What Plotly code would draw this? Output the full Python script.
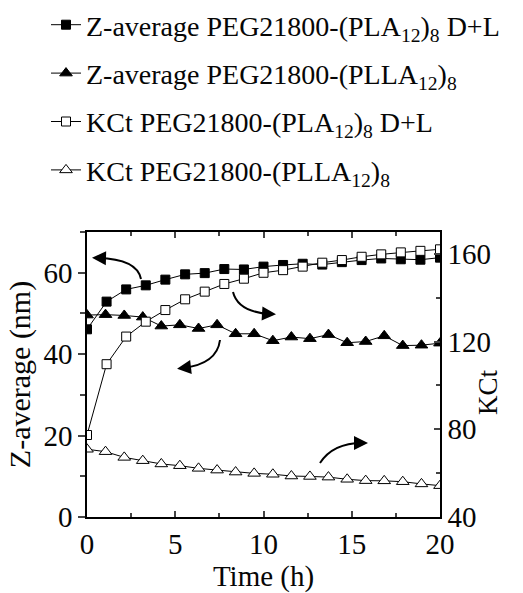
import plotly.graph_objects as go

# ---- data ----
t_sq = [0, 1.11, 2.22, 3.33, 4.44, 5.56, 6.67, 7.78, 8.89, 10.0, 11.11, 12.22,
        13.33, 14.44, 15.56, 16.67, 17.78, 18.89, 20.0]
z_pla = [46.1, 52.9, 55.9, 56.9, 58.3, 59.6, 59.9, 60.9, 60.8, 61.5, 61.9, 62.2,
         62.0, 62.6, 63.1, 63.5, 63.3, 63.2, 63.7]
kct_pla = [77.4, 109.7, 122.3, 129.1, 134.4, 139.3, 142.8, 146.3, 148.7, 151.4,
           152.6, 154.2, 156.0, 157.2, 158.7, 159.8, 160.7, 161.4, 162.1]

t_tri = [0, 1.05, 2.11, 3.16, 4.21, 5.26, 6.32, 7.37, 8.42, 9.47, 10.53, 11.58,
         12.63, 13.68, 14.74, 15.79, 16.84, 17.89, 18.95, 20.0]
z_plla = [49.6, 49.7, 49.5, 49.1, 46.9, 47.2, 46.3, 47.2, 45.0, 45.0, 43.3, 44.2,
          43.8, 44.8, 42.8, 43.1, 44.5, 42.1, 42.2, 42.7]
kct_plla = [70.9, 69.8, 67.2, 65.7, 64.2, 63.4, 62.2, 61.4, 60.5, 59.9, 59.5, 58.7,
            58.5, 58.2, 57.2, 56.6, 56.5, 56.1, 55.1, 54.3]

names = [
    "Z-average PEG21800-(PLA<sub>12</sub>)<sub>8</sub> D+L",
    "Z-average PEG21800-(PLLA<sub>12</sub>)<sub>8</sub>",
    "KCt PEG21800-(PLA<sub>12</sub>)<sub>8</sub> D+L",
    "KCt PEG21800-(PLLA<sub>12</sub>)<sub>8</sub>",
]

FONT = "Liberation Serif"
TXT = "#060606"

fig = go.Figure()

def add(x, y, name, symbol, fill, size, axis, rank):
    fig.add_trace(go.Scatter(
        x=x, y=y, name=name, mode="lines+markers", yaxis=axis,
        legendgroup=str(rank), legendrank=rank,
        line=dict(color="black", width=1),
        marker=dict(symbol=symbol, size=size, color=fill,
                    line=dict(color="black", width=1)),
    ))

add(t_sq, z_pla, names[0], "square", "black", 9, "y", 1)
add(t_tri, z_plla, names[1], "triangle-up", "black", 11, "y", 2)
add(t_sq, kct_pla, names[2], "square", "white", 9, "y2", 3)
add(t_tri, kct_plla, names[3], "triangle-up", "white", 11, "y2", 4)

L, R, T, B = 87, 440, 232, 517
W, H = 523, 593

def px(x, y):
    return (x - L) / (R - L), (B - y) / (B - T)

arrows = [
    ((141, 279), (137, 259), (98, 258)),
    ((233, 292), (238, 312), (270, 314)),
    ((220, 340), (217, 364), (183, 368)),
    ((320, 463), (333, 443), (362, 443)),
]
shapes = []
annotations = []
for (s, c, e) in arrows:
    sx, sy = px(*s)
    cx, cy = px(*c)
    ex, ey = px(*e)
    shapes.append(dict(type="path", xref="paper", yref="paper",
                       path=f"M {sx},{sy} Q {cx},{cy} {ex},{ey}",
                       line=dict(color="black", width=2)))
    dx, dy = e[0] - c[0], e[1] - c[1]
    n = (dx * dx + dy * dy) ** 0.5
    hx, hy = e[0] + dx / n * 6, e[1] + dy / n * 6
    hxp, hyp = px(hx, hy)
    annotations.append(dict(xref="paper", yref="paper", x=hxp, y=hyp,
                            ax=-dx / n * 10, ay=-dy / n * 10, text="",
                            showarrow=True, arrowhead=2, arrowsize=1.4,
                            arrowwidth=2, arrowcolor="black"))

annotations.append(dict(xref="paper", yref="paper", x=px(505, 392)[0], y=px(505, 392)[1],
                        text="KCt", textangle=-90, showarrow=False,
                        font=dict(family=FONT, size=27, color=TXT)))

tickfont = dict(family=FONT, size=29, color=TXT)

fig.update_layout(
    width=W, height=H,
    margin=dict(l=L, r=W - R, t=T, b=H - B, autoexpand=False),
    paper_bgcolor="white", plot_bgcolor="white",
    font=dict(family=FONT, color=TXT),
    showlegend=True,
    legend=dict(x=px(46, 0)[0], y=px(0, 0)[1], xanchor="left", yanchor="top",
                font=dict(family=FONT, size=28, color=TXT),
                tracegroupgap=9, traceorder="grouped",
                bgcolor="rgba(0,0,0,0)"),
    xaxis=dict(range=[0, 20], tickvals=[0, 5, 10, 15, 20],
               ticks="inside", ticklen=6, tickwidth=1.5,
               minor=dict(dtick=2.5, tick0=0, ticks="inside", ticklen=4, tickwidth=1.5),
               showline=True, linecolor="black", linewidth=1.5, mirror="ticks",
               showgrid=False, zeroline=False, tickfont=tickfont,
               title=dict(text="Time (h)", font=dict(family=FONT, size=29, color=TXT), standoff=12)),
    yaxis=dict(range=[0, 70], tickvals=[0, 20, 40, 60],
               ticks="outside", ticklen=7, tickwidth=1.5,
               minor=dict(dtick=10, tick0=0, ticks="outside", ticklen=5, tickwidth=1.5),
               showline=True, linecolor="black", linewidth=1.5,
               showgrid=False, zeroline=False, tickfont=tickfont,
               title=dict(text="Z-average (nm)", font=dict(family=FONT, size=30, color=TXT), standoff=4)),
    yaxis2=dict(range=[40, 170], tickvals=[40, 80, 120, 160], overlaying="y", side="right",
                ticks="inside", ticklen=6, tickwidth=1.5,
                minor=dict(dtick=20, tick0=40, ticks="inside", ticklen=4, tickwidth=1.5),
                showline=True, linecolor="black", linewidth=1.5,
                showgrid=False, zeroline=False, tickfont=tickfont),
    shapes=shapes,
    annotations=annotations,
)

fig.write_html("out.html")
